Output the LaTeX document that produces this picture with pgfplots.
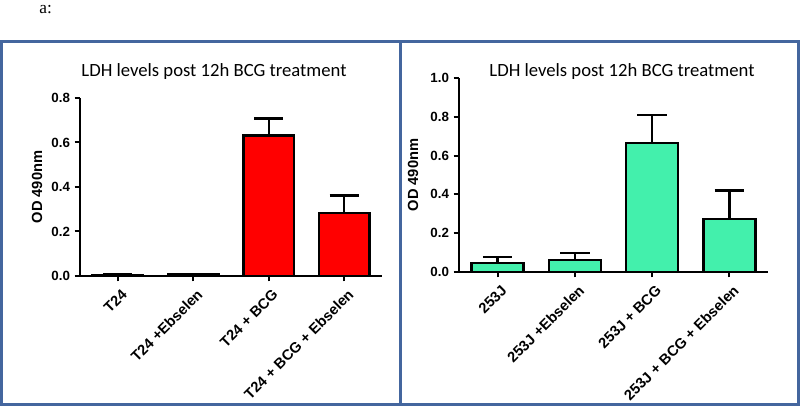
\documentclass[border=0pt]{standalone}
\usepackage{pgfplots}
\pgfplotsset{compat=1.18}
\usepackage{fontspec}
\setmainfont{Liberation Sans}
\newfontfamily\calibri{Carlito}
\newfontfamily\timesf{Liberation Serif}

\definecolor{frameblue}{RGB}{68,102,158}
\definecolor{barteal}{RGB}{67,240,172}

% 1px of the reference = 0.75pt
\pgfplotsset{
  panel/.style={
    scale only axis,
    anchor=south west,
    clip=false,
    axis x line*=bottom,
    axis y line*=left,
    axis line style={line width=1.5pt, -},
    xmin=-0.5, xmax=3.5,
    ymin=0,
    xtick={0,1,2,3},
    tick align=outside,
    major tick length=4pt,
    tick style={line width=1.5pt, black},
    yticklabel style={font=\bfseries\fontsize{10}{12}\selectfont},
    xticklabel style={font=\bfseries\fontsize{11}{13}\selectfont,
      rotate=45, anchor=north east, inner sep=1pt, yshift=-4pt, xshift=-1pt},
    /pgf/number format/.cd, fixed, fixed zerofill, precision=1,
      assume math mode=true,
    /pgfplots/.cd,
    ylabel={OD 490nm},
    ylabel style={font=\bfseries\fontsize{11}{13}\selectfont,
      anchor=center},
  },
  bars/.style={
    ybar, draw=black, line width=1.8pt,
    error bars/.cd, y dir=plus, y explicit,
      error mark=|,
      error bar style={line width=1.8pt, black},
      error mark options={black, line width=1.8pt, mark size=11pt},
    /pgfplots/.cd,
  },
}

\begin{document}
\begin{tikzpicture}
\useasboundingbox (0,0) rectangle (600pt,304.5pt);

\node[anchor=base west, font=\timesf\fontsize{13}{15}\selectfont]
  at (26pt,294.5pt) {a:};

\draw[frameblue, line width=2.25pt] (1.1pt,1.1pt) rectangle (598.9pt,273.4pt);
\draw[frameblue, line width=2.25pt] (300.4pt,1.1pt) -- (300.4pt,273.4pt);

\node[anchor=base, font=\calibri\fontsize{14}{16}\selectfont]
  at (160.5pt,246.75pt) {LDH levels post 12h BCG treatment};
\node[anchor=base, font=\calibri\fontsize{14}{16}\selectfont]
  at (466.5pt,246.75pt) {LDH levels post 12h BCG treatment};

% left panel: T24
\begin{axis}[panel,
  at={(60pt,97.5pt)}, width=226.5pt, height=133.5pt,
  ymax=0.8, ytick={0,0.2,0.4,0.6,0.8},
  xticklabels={T24, T24 +Ebselen, T24 + BCG, T24 + BCG + Ebselen},
  ylabel style={at={(axis description cs:-0.142,0.5)}},
]
\addplot[bars, fill=red, bar width=0.667] coordinates {
  (0,0.005) +- (0,0.001)
  (1,0.006) +- (0,0.001)
  (2,0.632) +- (0,0.076)
  (3,0.284) +- (0,0.078)
};
\end{axis}

% right panel: 253J
\begin{axis}[panel,
  at={(344.25pt,100.5pt)}, width=231.75pt, height=145.5pt,
  ymax=1.0, ytick={0,0.2,0.4,0.6,0.8,1.0},
  xticklabels={253J, 253J +Ebselen, 253J + BCG, 253J + BCG + Ebselen},
  ylabel style={at={(axis description cs:-0.149,0.5)}},
]
\addplot[bars, fill=barteal, bar width=0.675] coordinates {
  (0,0.046) +- (0,0.031)
  (1,0.062) +- (0,0.036)
  (2,0.665) +- (0,0.145)
  (3,0.273) +- (0,0.147)
};
\end{axis}
\end{tikzpicture}
\end{document}
